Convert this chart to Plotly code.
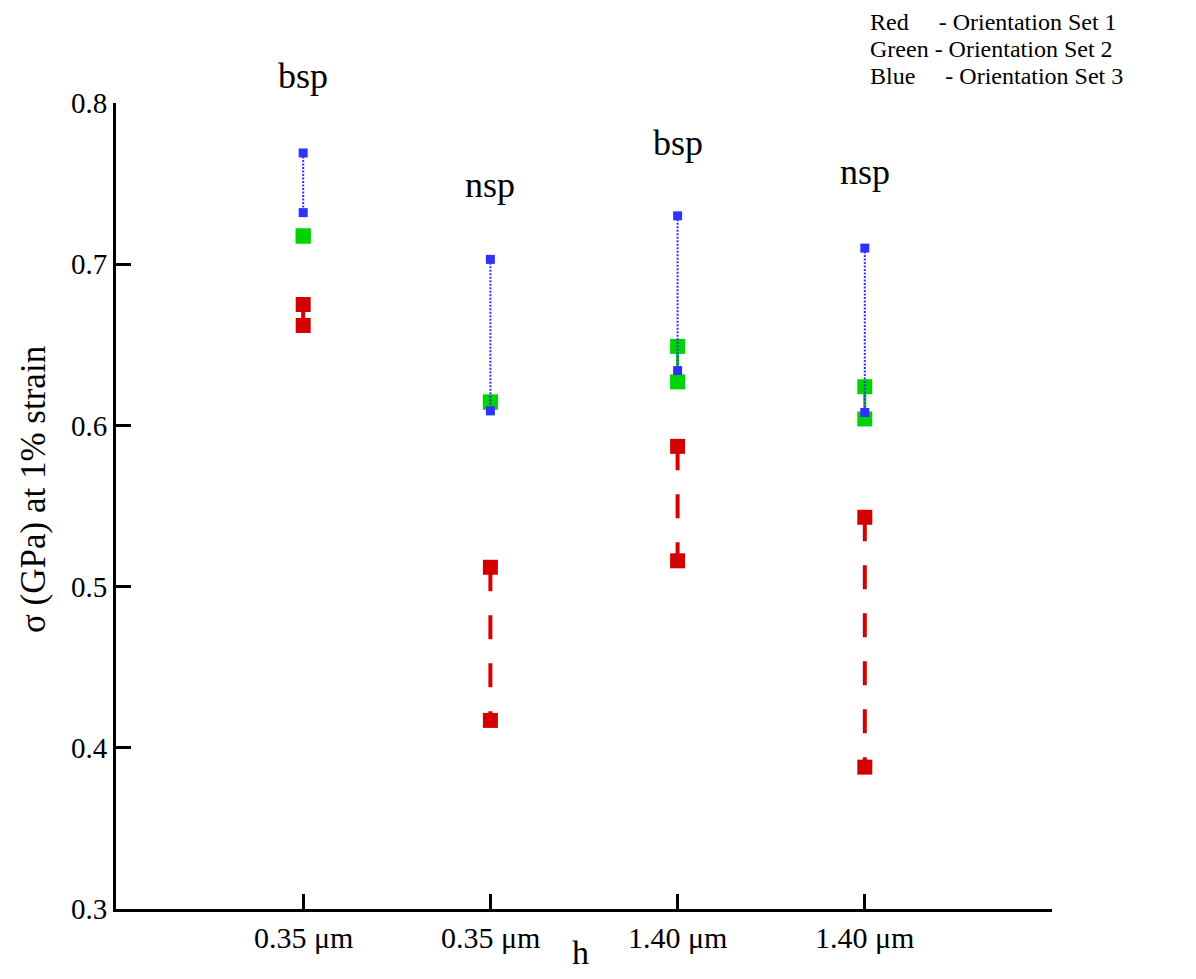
import plotly.graph_objects as go

# Data
categories = ["0.35 μm", "0.35 μm", "1.40 μm", "1.40 μm"]
cat_pos = [1, 2, 3, 4]
red_hi = [0.675, 0.512, 0.587, 0.543]
red_lo = [0.662, 0.417, 0.516, 0.388]
green_hi = [0.7175, 0.6145, 0.649, 0.624]
green_lo = [0.7175, 0.6145, 0.627, 0.604]
blue_hi = [0.769, 0.703, 0.730, 0.710]
blue_lo = [0.732, 0.609, 0.634, 0.608]
labels = ["bsp", "nsp", "bsp", "nsp"]
label_y = [0.8165, 0.749, 0.775, 0.757]
y_ticks = [0.3, 0.4, 0.5, 0.6, 0.7, 0.8]
y_ticktext = ["0.3", "0.4", "0.5", "0.6", "0.7", "0.8"]
legend_lines = ["Red\u00a0\u00a0\u00a0\u00a0\u00a0- Orientation Set 1",
                "Green - Orientation Set 2",
                "Blue\u00a0\u00a0\u00a0\u00a0\u00a0- Orientation Set 3"]
x_title = "h"
y_title = "σ (GPa) at 1% strain"
y_range = [0.3, 0.8]


def seg(hi, lo):
    xs, ys = [], []
    for p, a, b in zip(cat_pos, hi, lo):
        xs += [p, p, None]
        ys += [a, b, None]
    return xs, ys


fig = go.Figure()
serif = "Liberation Serif, Times New Roman, serif"

rx, ry = seg(red_hi, red_lo)
fig.add_trace(go.Scatter(x=rx, y=ry, mode="lines+markers",
                         line=dict(color="#d40000", width=4, dash="24px,24px"),
                         marker=dict(symbol="square", size=15, color="#d40000"),
                         showlegend=False))
gx, gy = seg(green_hi, green_lo)
fig.add_trace(go.Scatter(x=gx, y=gy, mode="lines+markers",
                         line=dict(color="#00d400", width=3),
                         marker=dict(symbol="square", size=15, color="#00d400"),
                         showlegend=False))
bx, by = seg(blue_hi, blue_lo)
fig.add_trace(go.Scatter(x=bx, y=by, mode="lines+markers",
                         line=dict(color="#3030ff", width=2, dash="2px,1.5px"),
                         marker=dict(symbol="square", size=9, color="#3030ff"),
                         showlegend=False))

span = y_range[1] - y_range[0]
for p, t, yv in zip(cat_pos, labels, label_y):
    fig.add_annotation(x=p, xref="x", yref="paper", y=(yv - y_range[0]) / span,
                       text=t, showarrow=False, yanchor="middle",
                       font=dict(family=serif, size=36, color="black"))

# plot area in page pixels: left 116, top 103, width 936, height 806
PL, PT, PW, PH = 116, 103, 936, 806

# category labels under the x axis
for p, t in zip(cat_pos, categories):
    fig.add_annotation(x=p, xref="x", yref="paper", y=-(937 - PT - PH) / PH,
                       text=t, showarrow=False, xanchor="center",
                       yanchor="middle",
                       font=dict(family=serif, size=30, color="black"))

legend_yc = [22, 49, 76]
for t, yc in zip(legend_lines, legend_yc):
    fig.add_annotation(xref="paper", yref="paper", x=(868 - PL) / PW,
                       y=1 + (PT - yc) / PH, xanchor="left",
                       yanchor="middle", text=t, showarrow=False,
                       font=dict(family=serif, size=24, color="black"))

fig.add_annotation(xref="paper", yref="paper", x=(580 - PL) / PW,
                   y=-(952 - PT - PH) / PH, text=x_title, showarrow=False,
                   xanchor="center", yanchor="middle",
                   font=dict(family=serif, size=34, color="black"))
fig.add_annotation(xref="paper", yref="paper", x=(33 - PL) / PW,
                   y=(PT + PH - 490) / PH, text=y_title, showarrow=False,
                   textangle=-90, xanchor="center", yanchor="middle",
                   font=dict(family=serif, size=35, color="black"))

fig.update_layout(
    width=1180, height=963,
    margin=dict(l=108, r=136, t=95, b=62),
    plot_bgcolor="white", paper_bgcolor="white",
    font=dict(family=serif, color="black"),
    xaxis=dict(range=[0, 5], tickvals=cat_pos + [5], showticklabels=False,
               ticks="inside", ticklen=15, tickwidth=3, tickcolor="black",
               showline=True, linewidth=3, linecolor="black", showgrid=False,
               zeroline=False, automargin=False),
    yaxis=dict(range=y_range, tickvals=y_ticks, ticktext=y_ticktext,
               ticks="inside", ticklen=15, tickwidth=3, tickcolor="black",
               showline=True, linewidth=3, linecolor="black", showgrid=False,
               zeroline=False, automargin=False,
               tickfont=dict(family=serif, size=29, color="black")),
)

fig.write_html("out.html")
